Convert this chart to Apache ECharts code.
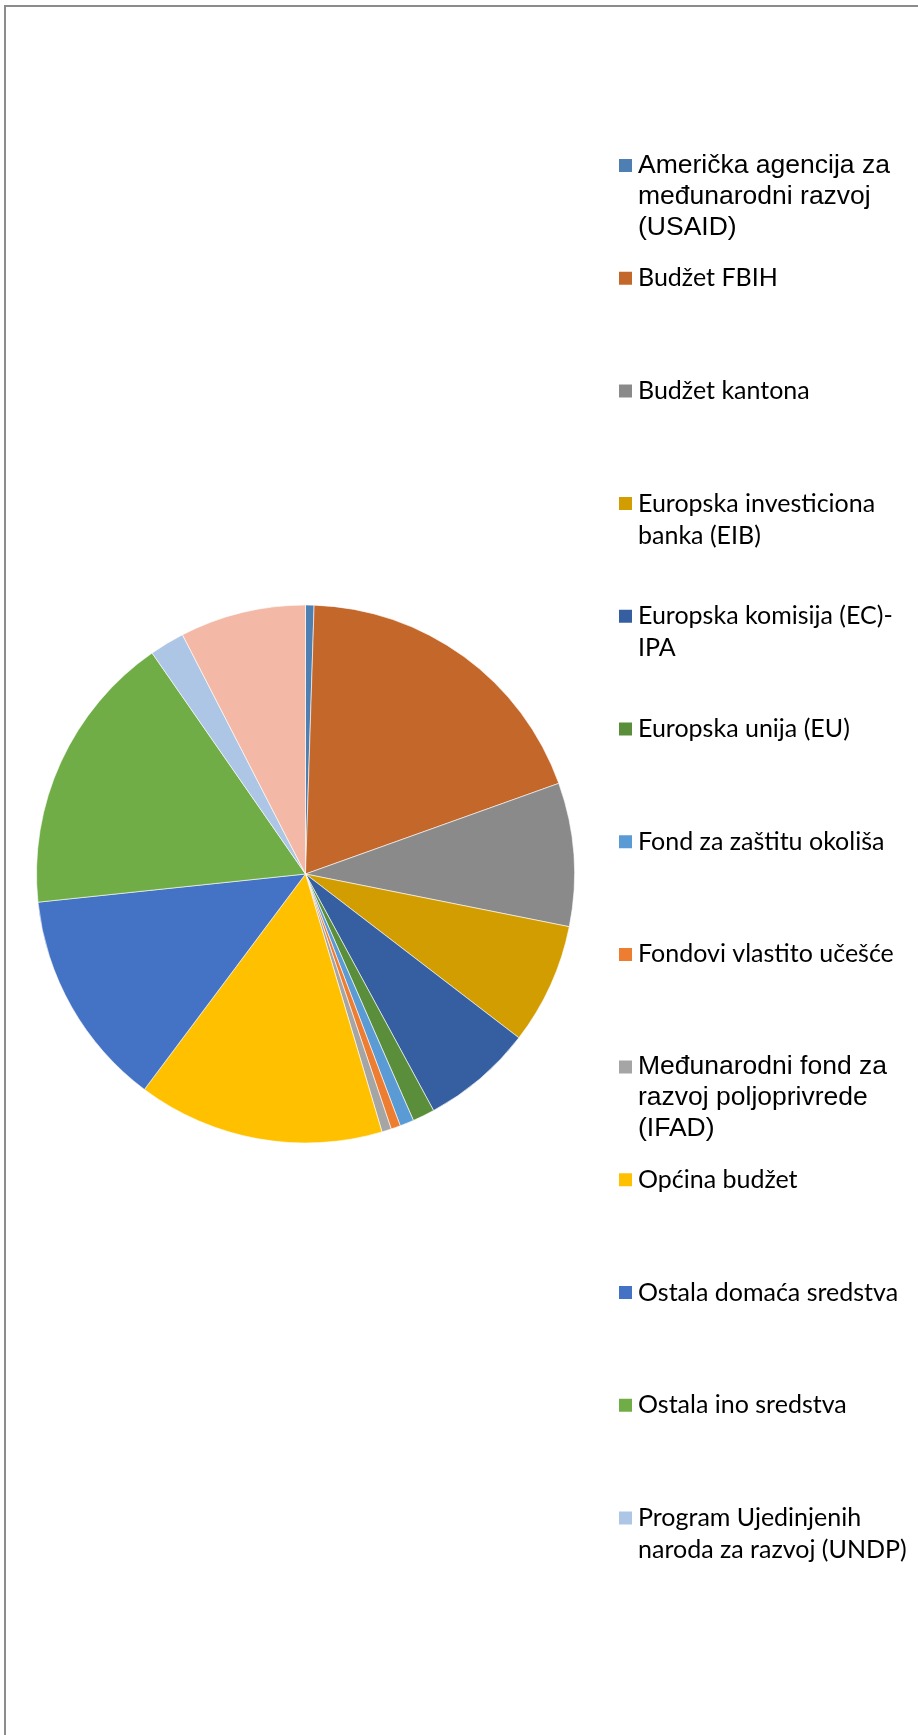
<!DOCTYPE html>
<html>
<head>
<meta charset="utf-8">
<script src="https://cdn.jsdelivr.net/npm/echarts@6/dist/echarts.min.js"></script>
<style>
  html, body { margin: 0; padding: 0; background: #fff; }
  #wrap { position: absolute; left: 0; top: 0; width: 918px; height: 1735px; overflow: hidden; }
  #frame { position: absolute; left: 4px; top: 5px; width: 1000px; height: 2000px; border-left: 2px solid #8c8c8c; border-top: 2px solid #8c8c8c; }
  #chart { position: absolute; left: 0; top: 0; width: 918px; height: 1735px; }
</style>
</head>
<body>
<div id="wrap"><div id="frame"></div><div id="chart"></div></div>
<script>
// Categories (funding sources), in pie order (clockwise from 12 o'clock)
const categories = [
  'Američka agencija za međunarodni razvoj (USAID)',
  'Budžet FBIH',
  'Budžet kantona',
  'Europska investiciona banka (EIB)',
  'Europska komisija (EC)-IPA',
  'Europska unija (EU)',
  'Fond za zaštitu okoliša',
  'Fondovi vlastito učešće',
  'Međunarodni fond za razvoj poljoprivrede (IFAD)',
  'Općina budžet',
  'Ostala domaća sredstva',
  'Ostala ino sredstva',
  'Program Ujedinjenih naroda za razvoj (UNDP)',
  'Vlastita sredstva'
];
// Share of total (%)
const shares = [0.51, 19.02, 8.61, 7.28, 6.68, 1.33, 0.84, 0.57, 0.57, 14.81, 13.11, 17.01, 2.10, 7.56];
const colors = ['#4D7FB3', '#C4672A', '#8A8A8A', '#D29D00', '#365FA1', '#5B8E3B', '#5B9BD5', '#ED7D31',
                '#A5A5A5', '#FFC000', '#4472C4', '#70AD47', '#ADC6E5', '#F3B9A6'];
// Legend text as wrapped in the reference (last category is not visible in legend)
const legendLabels = [
  'Američka agencija za\nmeđunarodni razvoj\n(USAID)',
  'Budžet FBIH',
  'Budžet kantona',
  'Europska investiciona\nbanka (EIB)',
  'Europska komisija (EC)-\nIPA',
  'Europska unija (EU)',
  'Fond za zaštitu okoliša',
  'Fondovi vlastito učešće',
  'Međunarodni fond za\nrazvoj poljoprivrede\n(IFAD)',
  'Općina budžet',
  'Ostala domaća sredstva',
  'Ostala ino sredstva',
  'Program Ujedinjenih\nnaroda za razvoj (UNDP)'
];
const arialItems = [0, 8];

const chart = echarts.init(document.getElementById('chart'), null, { renderer: 'canvas' });

const legendFirst = 165.5, legendStep = 112.7;
const legends = legendLabels.map((lab, i) => {
  const lines = lab.split('\n').length;
  const isArial = arialItems.indexOf(i) >= 0;
  const lh = isArial ? 31 : 32;
  const blockH = (2 * lines - 1) * lh;
  const cy = legendFirst + i * legendStep;
  return {
    orient: 'vertical',
    left: 617,
    top: cy - blockH / 2,
    padding: 0,
    itemWidth: 15,
    itemHeight: 15,
    icon: 'rect',
    selectedMode: false,
    data: [categories[i]],
    formatter: function () {
      return '\n'.repeat(lines - 1) + lab;
    },
    textStyle: {
      fontFamily: isArial ? '"Liberation Sans", Arial, sans-serif' : 'Lato, "Open Sans", sans-serif',
      fontSize: isArial ? 26.5 : 25,
      lineHeight: lh,
      color: '#000'
    }
  };
});

chart.setOption({
  animation: false,
  color: colors,
  legend: legends,
  series: [{
    type: 'pie',
    center: [305.5, 874],
    radius: [0, 269],
    startAngle: 90,
    clockwise: true,
    label: { show: false },
    labelLine: { show: false },
    itemStyle: { borderColor: '#fff', borderWidth: 0.6 },
    emphasis: { disabled: true },
    data: categories.map((c, i) => ({ name: c, value: shares[i] }))
  }]
});
</script>
</body>
</html>
